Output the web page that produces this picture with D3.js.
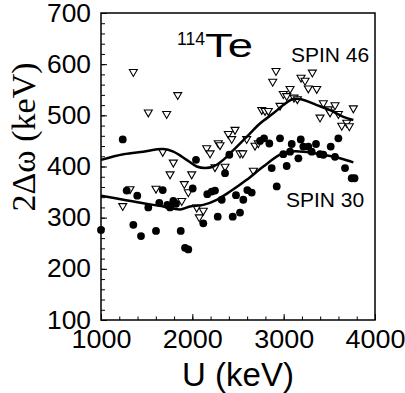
<!DOCTYPE html>
<html>
<head>
<meta charset="utf-8">
<script src="https://cdn.jsdelivr.net/npm/d3@7"></script>
<style>
  body { margin: 0; background: #fff; }
  text { font-family: "Liberation Sans", Arial, sans-serif; }
</style>
</head>
<body>
<script>
  // spin 46 points (open triangles): [U keV, 2dw keV]
  const spin46 = [
    [1354, 583], [1840, 538], [1518, 504], [1719, 501], [1676, 427],
    [1792, 406], [1756, 383], [1993, 383], [2157, 434], [2194, 424],
    [2284, 444], [2303, 440], [2394, 462], [2467, 470], [2431, 452],
    [2522, 424], [2552, 424], [2595, 452], [2686, 439], [2722, 444],
    [2248, 397], [2358, 398], [2668, 390], [2760, 509], [2796, 507],
    [2832, 507], [2960, 517], [2880, 564], [2916, 585], [2996, 540],
    [3033, 536], [3070, 550], [3113, 533], [3150, 530], [3190, 572],
    [3234, 566], [3314, 582], [3270, 551], [3362, 550], [3398, 494],
    [3434, 522], [3489, 510], [3562, 518], [3508, 504], [3599, 501],
    [3636, 478], [3691, 484], [3719, 477], [3763, 512], [1238, 321],
    [1318, 354], [1602, 355], [1912, 364], [1956, 348], [1884, 331],
    [2048, 318], [2120, 312], [2076, 299]
  ];

  // spin 30 points (filled dots)
  const spin30 = [
    [1238, 453], [2040, 413], [2405, 423], [2358, 387], [2741, 450],
    [2785, 455], [2843, 445], [2960, 455], [3088, 444], [3187, 453],
    [3215, 439], [3270, 439], [3354, 444], [3307, 429], [3398, 424],
    [3434, 423], [3515, 439], [3599, 455], [3562, 419], [2996, 424],
    [3070, 429], [3161, 416], [2869, 397], [3033, 401], [3672, 397],
    [3745, 377], [3776, 377], [1000, 276], [1281, 353], [1397, 343],
    [1354, 286], [1438, 264], [1518, 320], [1602, 274], [1638, 329],
    [1676, 354], [1726, 325], [1756, 320], [1792, 333], [1821, 327],
    [1873, 274], [1920, 241], [1956, 238], [2004, 357], [2120, 289],
    [2164, 346], [2212, 351], [2248, 353], [2278, 302], [2322, 335],
    [2442, 302], [2478, 344], [2522, 310], [2558, 335], [2602, 354],
    [2650, 349], [2924, 361]
  ];

  // calculated curves
  const curve46 = [
    [1000, 413], [1245, 424], [1463, 429], [1682, 434], [1792, 429],
    [1938, 413], [2048, 400], [2139, 397], [2230, 400], [2339, 413],
    [2449, 432], [2595, 458], [2741, 484], [2887, 504], [2996, 520],
    [3088, 531], [3179, 532], [3362, 520], [3508, 510], [3654, 497],
    [3763, 491]
  ];
  const curve30 = [
    [1000, 343], [1245, 335], [1463, 328], [1682, 322], [1865, 316],
    [1975, 322], [2120, 325], [2267, 335], [2413, 351], [2595, 374],
    [2777, 400], [2960, 423], [3070, 429], [3215, 429], [3434, 423],
    [3617, 416], [3763, 408]
  ];

  const xTicks = [1000, 2000, 3000, 4000];
  const yTicks = [100, 200, 300, 400, 500, 600, 700];

  const width = 405;
  const height = 393;
  const margin = { top: 13, right: 30, bottom: 73, left: 101 };

  const svg = d3.select('body')
    .append('svg')
    .attr('width', width)
    .attr('height', height);

  const x = d3.scaleLinear()
    .domain([1000, 4000])
    .range([margin.left, width - margin.right]);

  const y = d3.scaleLinear()
    .domain([100, 700])
    .range([height - margin.bottom, margin.top]);

  // minor ticks (inside)
  svg.append('g')
    .attr('transform', `translate(${margin.left},0)`)
    .call(d3.axisLeft(y).tickValues(d3.range(100, 701, 20)).tickSize(-4).tickFormat(''))
    .call((g) => g.select('.domain').remove());

  svg.append('g')
    .attr('transform', `translate(0,${height - margin.bottom})`)
    .call(d3.axisBottom(x).tickValues(d3.range(1000, 4001, 200)).tickSize(-3.5).tickFormat(''))
    .call((g) => g.select('.domain').remove());

  // labelled axes - the original font is a bit wide, so stretch digits
  const yAxis = svg.append('g')
    .attr('transform', `translate(${margin.left},0)`)
    .call(d3.axisLeft(y).tickValues(yTicks).tickSize(-6).tickPadding(10).tickFormat(d3.format('d')));
  yAxis.select('.domain').remove();
  yAxis.selectAll('text')
    .attr('font-size', 25)
    .attr('textLength', 44)
    .attr('lengthAdjust', 'spacingAndGlyphs')
    .attr('font-family', '"Liberation Sans", Arial, sans-serif')
    .attr('fill', '#000');

  const xAxis = svg.append('g')
    .attr('transform', `translate(0,${height - margin.bottom})`)
    .call(d3.axisBottom(x).tickValues(xTicks).tickSize(-6).tickPadding(10).tickFormat(d3.format('d')));
  xAxis.select('.domain').remove();
  xAxis.selectAll('text')
    .attr('font-size', 26)
    .attr('textLength', 60)
    .attr('lengthAdjust', 'spacingAndGlyphs')
    .attr('font-family', '"Liberation Sans", Arial, sans-serif')
    .attr('fill', '#000');

  // frame
  svg.append('rect')
    .attr('x', margin.left)
    .attr('y', margin.top)
    .attr('width', width - margin.left - margin.right)
    .attr('height', height - margin.top - margin.bottom)
    .attr('fill', 'none')
    .attr('stroke', '#000')
    .attr('stroke-width', 1.5);

  // triangles
  const tri = 'M-4,-3.3L4,-3.3L0,3.6Z';
  svg.append('g')
    .selectAll('path')
    .data(spin46)
    .join('path')
    .attr('d', tri)
    .attr('transform', (d) => `translate(${x(d[0])},${y(d[1])})`)
    .attr('fill', '#fff')
    .attr('stroke', '#000')
    .attr('stroke-width', 1.1);

  // curves
  const line = d3.line()
    .x((d) => x(d[0]))
    .y((d) => y(d[1]))
    .curve(d3.curveCatmullRom);

  svg.append('g')
    .selectAll('path')
    .data([curve46, curve30])
    .join('path')
    .attr('d', line)
    .attr('fill', 'none')
    .attr('stroke', '#000')
    .attr('stroke-width', 2.5);

  // dots
  svg.append('g')
    .selectAll('circle')
    .data(spin30)
    .join('circle')
    .attr('cx', (d) => x(d[0]))
    .attr('cy', (d) => y(d[1]))
    .attr('r', 3.9)
    .attr('fill', '#000');

  // labels
  svg.append('text')
    .attr('x', 177)
    .attr('y', 45)
    .attr('font-size', 18)
    .attr('textLength', 28)
    .attr('lengthAdjust', 'spacingAndGlyphs')
    .text('114');
  svg.append('text')
    .attr('x', 205)
    .attr('y', 57)
    .attr('font-size', 34)
    .attr('textLength', 48)
    .attr('lengthAdjust', 'spacingAndGlyphs')
    .text('Te');

  svg.append('text')
    .attr('x', 291)
    .attr('y', 62)
    .attr('font-size', 21)
    .text('SPIN 46');

  svg.append('text')
    .attr('x', 286)
    .attr('y', 207)
    .attr('font-size', 21)
    .text('SPIN 30');

  svg.append('text')
    .attr('x', 238)
    .attr('y', 386)
    .attr('text-anchor', 'middle')
    .attr('font-size', 33)
    .text('U (keV)');

  svg.append('text')
    .attr('transform', 'translate(35,137) rotate(-90)')
    .attr('text-anchor', 'middle')
    .attr('font-size', 34)
    .style('font-family', '"Liberation Serif", "Times New Roman", serif')
    .text('2Δω (keV)');
</script>
</body>
</html>
